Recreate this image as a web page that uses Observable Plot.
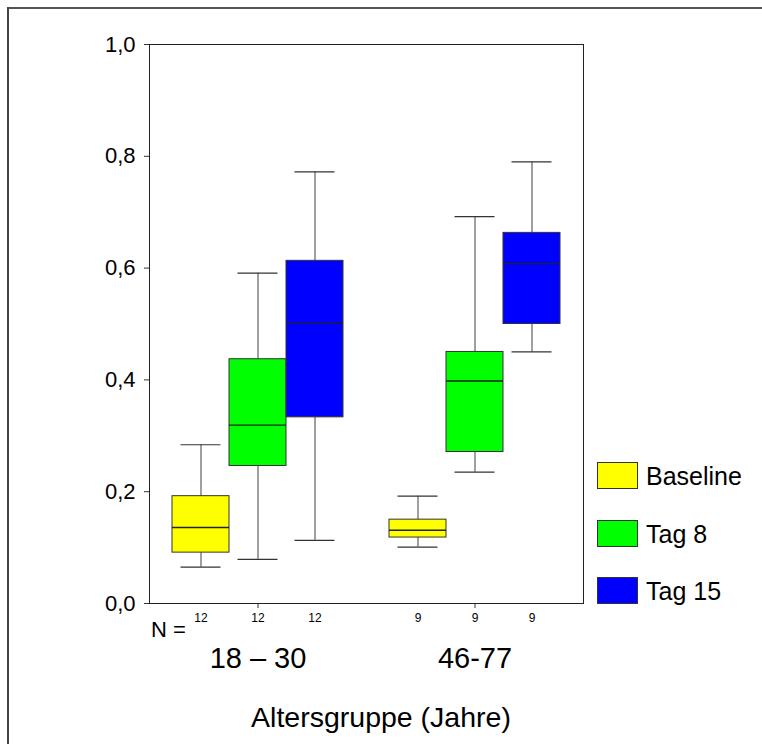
<!DOCTYPE html>
<html>
<head>
<meta charset="utf-8">
<script src="https://cdn.jsdelivr.net/npm/d3@7"></script>
<script src="https://cdn.jsdelivr.net/npm/@observablehq/plot@0.6"></script>
<style>
  html, body { margin: 0; padding: 0; background: #fff; }
  body { font-family: "Liberation Sans", Arial, Helvetica, sans-serif; color: #000; }
  #wrap { position: relative; width: 762px; height: 744px; overflow: hidden; background: #fff; }
  #chart { position: absolute; left: 0; top: 0; }
  .frameTop { position: absolute; left: 7px; top: 7px; width: 755px; height: 2px; background: #555; }
  .frameLeft { position: absolute; left: 7px; top: 7px; width: 2px; height: 737px; background: #444; }
  .txt { position: absolute; line-height: 1; white-space: nowrap; }
  .legRow { position: absolute; left: 597px; display: flex; align-items: flex-start; }
  .sw { width: 41px; height: 27px; box-sizing: border-box; border: 1px solid #333; }
  .legLab { font-size: 25px; line-height: 1; margin-left: 8px; margin-top: 2px; }
</style>
</head>
<body>
<div id="wrap">
  <div id="chart"></div>
  <div class="frameTop"></div>
  <div class="frameLeft"></div>
  <div class="txt" id="nlabel" style="left:151px; top:619px; font-size:22px;">N =</div>
  <div class="txt" id="xtitle" style="left:0; width:762px; text-align:center; top:703px; font-size:28.5px;">Altersgruppe (Jahre)</div>
  <div id="legend"></div>
</div>
<script>
const groups = ["18 – 30", "46-77"];
const series = ["Baseline", "Tag 8", "Tag 15"];
const colors = ["#ffff00", "#00ff00", "#0000ff"];
const counts = [12, 9];
const whiskerLow  = [0.065, 0.079, 0.113, 0.101, 0.235, 0.450];
const q1          = [0.091, 0.246, 0.333, 0.118, 0.271, 0.500];
const median      = [0.136, 0.319, 0.502, 0.131, 0.398, 0.608];
const q3          = [0.192, 0.437, 0.613, 0.150, 0.450, 0.663];
const whiskerHigh = [0.284, 0.591, 0.772, 0.192, 0.692, 0.790];
const yTicks = [0, 0.2, 0.4, 0.6, 0.8, 1.0];

const rows = [];
groups.forEach((g, gi) => series.forEach((s, si) => {
  const i = gi * series.length + si;
  rows.push({group: g, series: s, n: counts[gi], lo: whiskerLow[i], q1: q1[i], med: median[i], q3: q3[i], hi: whiskerHigh[i]});
}));

const fmt = d => d.toFixed(1).replace(".", ",");

const chart = Plot.plot({
  width: 762,
  height: 680,
  marginLeft: 149,
  marginRight: 179,
  marginTop: 44,
  marginBottom: 77,
  style: {fontFamily: '"Liberation Sans", Arial, Helvetica, sans-serif', color: "#000", background: "#fff"},
  fx: {domain: groups, paddingInner: 0, paddingOuter: 0, axis: null},
  x: {domain: series, paddingInner: 0, paddingOuter: 0.374, axis: null},
  y: {domain: [0, 1], axis: null},
  color: {domain: series, range: colors},
  marks: [
    Plot.ruleX(rows, {fx: "group", x: "series", y1: "lo", y2: "q1", stroke: "#777", strokeWidth: 1.4}),
    Plot.ruleX(rows, {fx: "group", x: "series", y1: "q3", y2: "hi", stroke: "#777", strokeWidth: 1.4}),
    Plot.tickY(rows, {fx: "group", x: "series", y: "lo", stroke: "#333", strokeWidth: 1.2, insetLeft: 8.5, insetRight: 8.5}),
    Plot.tickY(rows, {fx: "group", x: "series", y: "hi", stroke: "#333", strokeWidth: 1.2, insetLeft: 8.5, insetRight: 8.5}),
    Plot.barY(rows, {fx: "group", x: "series", y1: "q1", y2: "q3", fill: "series", stroke: "#333", strokeWidth: 1}),
    Plot.tickY(rows, {fx: "group", x: "series", y: "med", stroke: "#222", strokeWidth: 1.3}),
    Plot.text(rows, {fx: "group", x: "series", text: "n", frameAnchor: "bottom", dy: 18, fontSize: 12, fill: "#000"}),
    Plot.axisY({ticks: yTicks, tickFormat: fmt, tickSize: 5, tickPadding: 9, fontSize: 22, label: null, stroke: "#333"}),
    Plot.axisFx({anchor: "bottom", tickSize: 5, tickPadding: 39, fontSize: 29, label: null, stroke: "#333"}),
    Plot.frame({stroke: "#222", facet: "super"})
  ]
});
document.getElementById("chart").appendChild(chart);

const leg = document.getElementById("legend");
const legTops = [462, 519.5, 577];
series.forEach((s, i) => {
  const row = document.createElement("div");
  row.className = "legRow";
  row.style.top = legTops[i] + "px";
  const sw = document.createElement("div");
  sw.className = "sw";
  sw.style.background = chart.scale("color").apply(s);
  const lab = document.createElement("div");
  lab.className = "legLab";
  lab.textContent = s;
  row.appendChild(sw); row.appendChild(lab);
  leg.appendChild(row);
});
</script>
</body>
</html>
